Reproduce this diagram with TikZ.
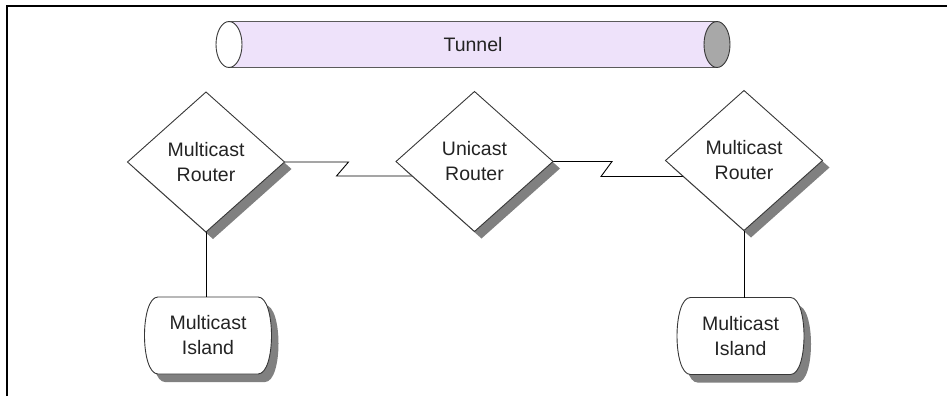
\documentclass[tikz,border=0pt]{standalone}
\usepackage{fontspec}
\setmainfont{Liberation Sans}
\usetikzlibrary{shapes.geometric,calc}
\pgfdeclarelayer{background}
\pgfsetlayers{background,main}
\definecolor{lav}{RGB}{238,226,250}
\definecolor{shad}{RGB}{128,128,128}
\definecolor{edgec}{RGB}{55,55,55}
\definecolor{txt}{RGB}{35,35,35}
\definecolor{capgray}{RGB}{168,168,168}
\definecolor{tubeline}{RGB}{90,90,90}
\begin{document}
\begin{tikzpicture}[x=1pt,y=-1pt,
  lbl/.style={align=center, font=\fontsize{19.5}{25}\selectfont, text=txt},
  router/.style={lbl, diamond, draw=edgec, fill=white, line width=0.9pt,
    minimum width=157pt, minimum height=140pt, inner sep=0pt, outer sep=0pt},
  island/.style={lbl, rectangle, draw=none, minimum width=128pt,
    minimum height=77pt, inner sep=0pt, outer sep=0pt},
  tubetext/.style={lbl, rectangle, draw=none, minimum width=488pt,
    minimum height=46pt, inner sep=0pt, outer sep=0pt},
  conn/.style={draw=black, line width=0.9pt},
  frameline/.style={line width=1.8pt, draw=black},
  islandpath/.style n args={3}{insert path={
    ($(#1.north east)+(#2-14,#3)$) .. controls ($(#1.north east)+(#2+4,#3)$) and ($(#1.south east)+(#2+4,#3)$) .. ($(#1.south east)+(#2-14,#3)$)
    -- ($(#1.south west)+(#2+14,#3)$) .. controls ($(#1.south west)+(#2-4,#3)$) and ($(#1.north west)+(#2-4,#3)$) .. ($(#1.north west)+(#2+14,#3)$) -- cycle}}
]
\useasboundingbox (0,0) rectangle (947,396);
\draw[frameline] (7,396) -- (7,6) -- (947,6);

% nodes
\node[tubetext] (T) at (473,44.5) {Tunnel};
\node[router] (L) at (206,162) {Multicast\\Router};
\node[router] (U) at (474.5,161.5) {Unicast\\Router};
\node[router] (R) at (744,160.5) {Multicast\\Router};
\node[island] (I1) at (208,335.5) {Multicast\\Island};
\node[island] (I2) at (740.5,336) {Multicast\\Island};

% tunnel ends
\draw[edgec, line width=0.9pt, fill=white] (T.west) ellipse [x radius=13pt, y radius=23pt];
\draw[edgec, line width=0.9pt, fill=capgray] (T.east) ellipse [x radius=13pt, y radius=23pt];

\begin{pgfonlayer}{background}
  % tunnel body
  \fill[lav] (T.north west) rectangle (T.south east);
  \draw[tubeline, line width=1.2pt] (T.north west) -- (T.north east);
  \draw[tubeline, line width=1.2pt] (T.south west) -- (T.south east);
  % diamond shadows
  \foreach \n in {L,U,R}{
    \fill[shad] ($(\n.north)+(7,7)$) -- ($(\n.east)+(7,7)$) -- ($(\n.south)+(7,7)$) -- ($(\n.west)+(7,7)$) -- cycle;
  }
  % island shadows and outlines
  \fill[shad, islandpath={I1}{7}{8}];
  \fill[shad, islandpath={I2}{7}{8}];
  \draw[edgec, line width=0.9pt, fill=white, islandpath={I1}{0}{0}];
  \draw[edgec, line width=0.9pt, fill=white, islandpath={I2}{0}{0}];
  % connectors
  \draw[conn] (L.east) -- ++(64,0) -- ++(-12,14) coordinate (z1) -- (z1 -| U.center);
  \draw[conn] (U.east) -- ++(59,0) -- ++(-11,15) coordinate (z2) -- (z2 -| R.center);
  \draw[conn] (L.south) -- (L.south |- I1.north);
  \draw[conn] (R.south) -- (R.south |- I2.north);
\end{pgfonlayer}
\end{tikzpicture}
\end{document}
